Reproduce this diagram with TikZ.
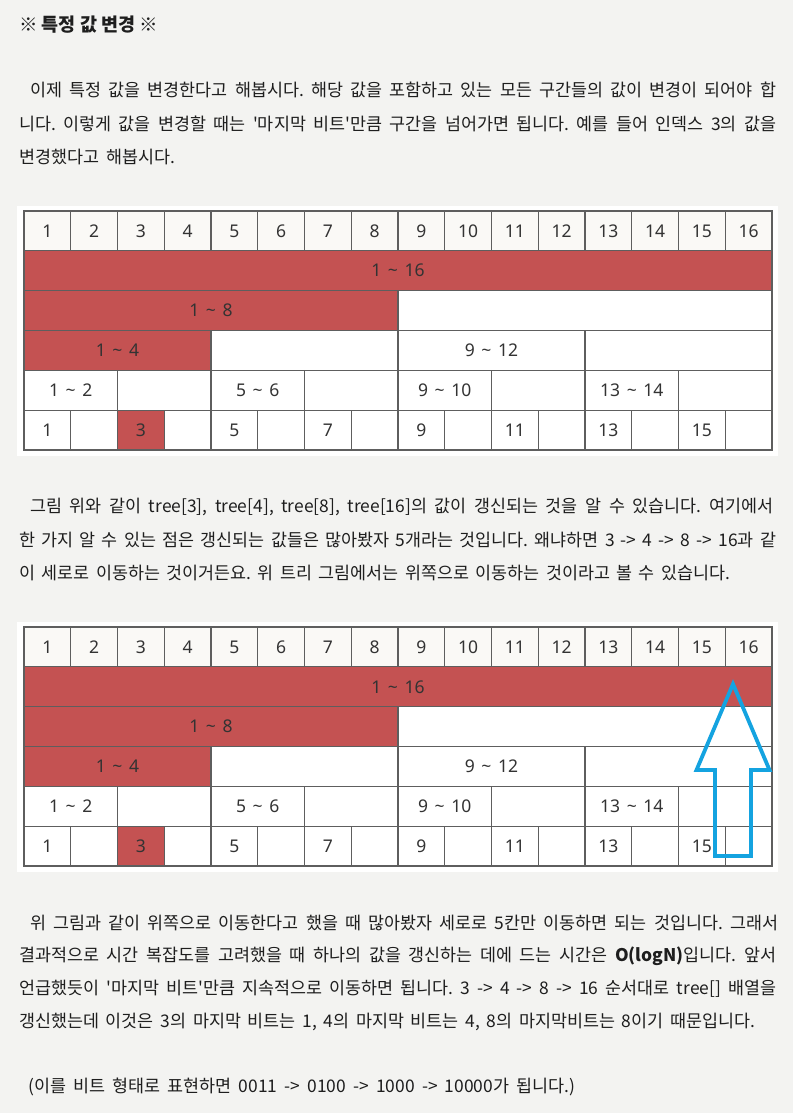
\documentclass[tikz,border=0pt]{standalone}
\usepackage{fontspec}
\setmainfont{Noto Sans CJK KR}
\newfontfamily\tabfont{Noto Sans}
\frenchspacing
\definecolor{pagebg}{HTML}{F3F3F1}
\definecolor{redc}{HTML}{C45252}
\definecolor{hdr}{HTML}{FAF9F6}
\definecolor{gridc}{HTML}{5E5E5E}
\definecolor{txt}{HTML}{1E1E1E}
\definecolor{celltxt}{HTML}{333333}
\definecolor{arrowc}{HTML}{14A3E0}
\tikzset{
  textline/.style={anchor=west, inner sep=0pt, text=txt, font=\fontsize{17.4}{20}\selectfont},
  cellbase/.style={draw=gridc, line width=1.1pt, inner sep=0pt, text=celltxt, font=\tabfont\fontsize{17.5}{20}\selectfont},
  hcell/.style={cellbase, fill=hdr},
  rcell/.style={cellbase, fill=redc},
  wcell/.style={cellbase, fill=white},
  framebg/.style={fill=white, draw=none, inner sep=0pt, minimum width=761pt, minimum height=250pt},
  uparrow/.style={draw=arrowc, line width=3.8pt, line join=miter},
}
\newcommand\tl{\hspace{0.38em}\textasciitilde\hspace{0.38em}}
\newcommand\sq{\textquotesingle}
% name, from col, to col, top y, style, text
\newcommand\seg[6]{\node[#5, minimum width={(#3-#2+1)*46.75pt}, minimum height=39.83pt] (#1) at ({24+(#2+#3-1)*23.375},{#4+19.915}) {#6};}
\newcommand\fenwick[2]{%
  \node[framebg] (#1-frame) at (397.5,{#2+120}) {};
  \foreach \c in {1,...,16} {\seg{#1-h\c}{\c}{\c}{#2}{hcell}{\c}}
  \seg{#1-r1}{1}{16}{#2+39.83}{rcell}{1\tl 16}
  \seg{#1-r2a}{1}{8}{#2+79.66}{rcell}{1\tl 8}
  \seg{#1-r2b}{9}{16}{#2+79.66}{wcell}{}
  \foreach \a/\b/\st/\t in {1/4/rcell/{1\tl 4}, 5/8/wcell/{}, 9/12/wcell/{9\tl 12}, 13/16/wcell/{}}
    {\seg{#1-r3-\a}{\a}{\b}{#2+119.49}{\st}{\t}}
  \foreach \a/\b/\t in {1/2/{1\tl 2}, 3/4/{}, 5/6/{5\tl 6}, 7/8/{}, 9/10/{9\tl 10}, 11/12/{}, 13/14/{13\tl 14}, 15/16/{}}
    {\seg{#1-r4-\a}{\a}{\b}{#2+159.32}{wcell}{\t}}
  \foreach \a/\st/\t in {1/wcell/1, 2/wcell/{}, 3/rcell/3, 4/wcell/{}, 5/wcell/5, 6/wcell/{}, 7/wcell/7, 8/wcell/{}, 9/wcell/9, 10/wcell/{}, 11/wcell/11, 12/wcell/{}, 13/wcell/13, 14/wcell/{}, 15/wcell/15, 16/wcell/{}}
    {\seg{#1-r5-\a}{\a}{\a}{#2+199.15}{\st}{\t}}
}
\newcommand\fline[4]{\node[textline] (#1) at (#2) {\makebox[#3][s]{#4}};}
\begin{document}
\begin{tikzpicture}[x=1pt,y=-1pt]
\useasboundingbox (0,0) rectangle (793,1113);
\fill[pagebg] (0,0) rectangle (793,1113);

\node[textline, font=\bfseries\fontsize{18.5}{20}\selectfont] (title) at (19,25) {※ 특정 값 변경 ※};

\fline{p1a}{30,90}{746pt}{이제 특정 값을 변경한다고 해봅시다. 해당 값을 포함하고 있는 모든 구간들의 값이 변경이 되어야 합}
\fline{p1b}{19,123.5}{757pt}{니다. 이렇게 값을 변경할 때는 \sq 마지막 비트\sq 만큼 구간을 넘어가면 됩니다. 예를 들어 인덱스 3의 값을}
\fline{p1c}{19,157}{156pt}{변경했다고 해봅시다.}

\fenwick{ta}{211}

\fline{p2a}{30,507}{743pt}{그림 위와 같이 tree[3], tree[4], tree[8], tree[16]의 값이 갱신되는 것을 알 수 있습니다. 여기에서}
\fline{p2b}{19,540}{757pt}{한 가지 알 수 있는 점은 갱신되는 값들은 많아봤자 5개라는 것입니다. 왜냐하면 3 -> 4 -> 8 -> 16과 같}
\fline{p2c}{19,573}{711pt}{이 세로로 이동하는 것이거든요. 위 트리 그림에서는 위쪽으로 이동하는 것이라고 볼 수 있습니다.}

\fenwick{tb}{627}

\coordinate (tip) at (733,684);
\coordinate (hr) at (769.5,770);
\coordinate (sr) at (751,770);
\coordinate (br) at (751,856);
\coordinate (bl) at (715,856);
\coordinate (sl) at (715,770);
\coordinate (hl) at (696.5,770);
\draw[uparrow] (tip) -- (hr) -- (sr) -- (br) -- (bl) -- (sl) -- (hl) -- cycle;

\fline{p3a}{30,923}{748pt}{위 그림과 같이 위쪽으로 이동한다고 했을 때 많아봤자 세로로 5칸만 이동하면 되는 것입니다. 그래서}
\fline{p3b}{19,956}{757pt}{결과적으로 시간 복잡도를 고려했을 때 하나의 값을 갱신하는 데에 드는 시간은 {\bfseries O(logN)}입니다. 앞서}
\fline{p3c}{19,989}{757pt}{언급했듯이 \sq 마지막 비트\sq 만큼 지속적으로 이동하면 됩니다. 3 -> 4 -> 8 -> 16 순서대로 tree[] 배열을}
\fline{p3d}{19,1022}{736pt}{갱신했는데 이것은 3의 마지막 비트는 1, 4의 마지막 비트는 4, 8의 마지막비트는 8이기 때문입니다.}
\fline{p3e}{28,1087}{547pt}{(이를 비트 형태로 표현하면 0011 -> 0100 -> 1000 -> 10000가 됩니다.)}
\end{tikzpicture}
\end{document}
